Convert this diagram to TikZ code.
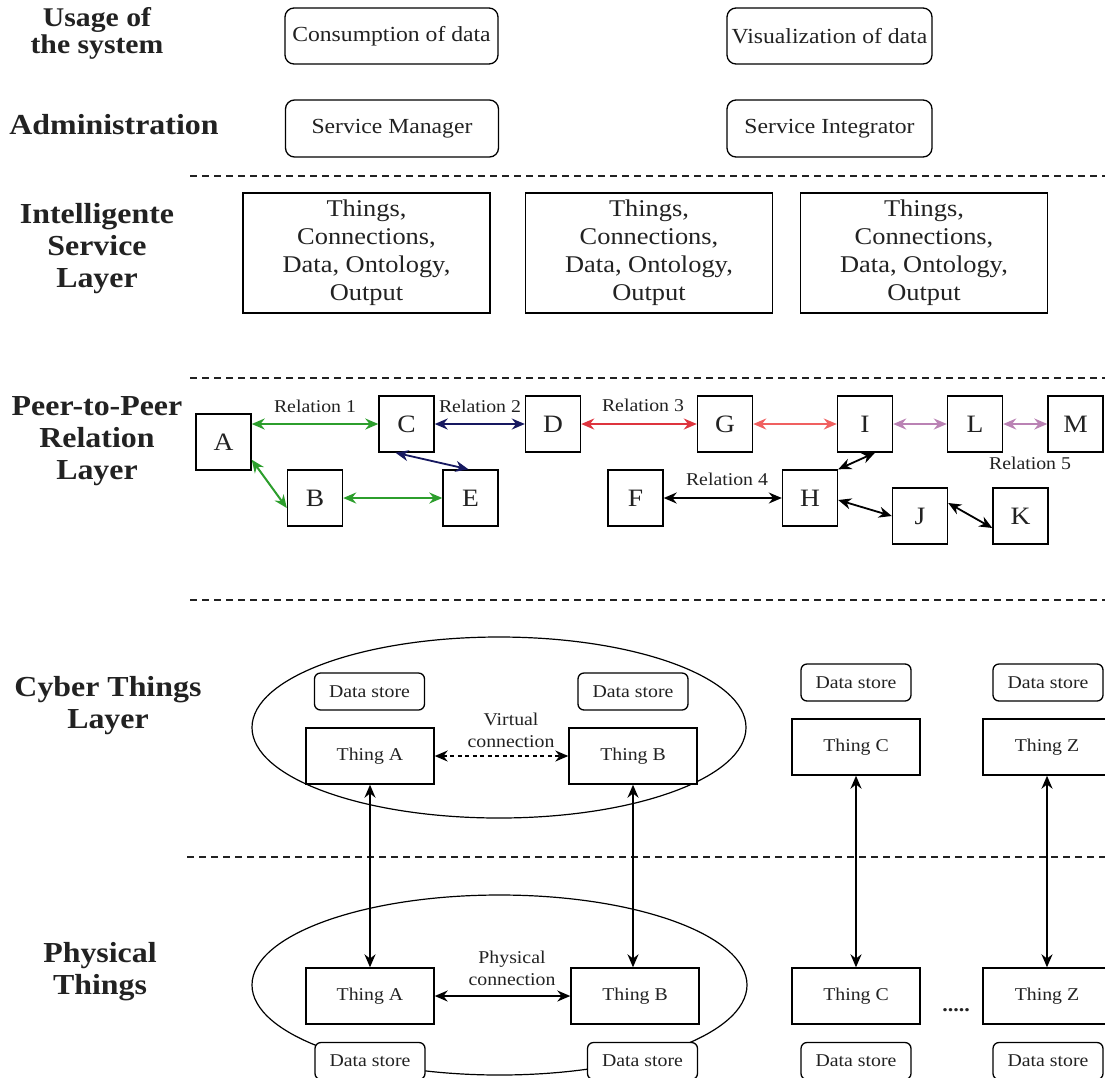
\documentclass[tikz,border=0pt]{standalone}
\usepackage{fontspec}
\setmainfont{Liberation Serif}[FakeStretch=1.1]
\usetikzlibrary{arrows.meta,shapes.geometric}

\definecolor{relgreen}{RGB}{44,158,44}
\definecolor{relnavy}{RGB}{22,24,96}
\definecolor{relred}{RGB}{222,52,62}
\definecolor{relsalmon}{RGB}{240,96,96}
\definecolor{relmauve}{RGB}{186,130,180}
\definecolor{ink}{RGB}{34,34,34}

\tikzset{
  layerlabel/.style={font=\bfseries\fontsize{29}{32}\selectfont, align=center, text=ink},
  roundbox/.style={draw, rounded corners=9, line width=1.3, minimum width=213, minimum height=56,
    inner sep=0, font=\fontsize{21.5}{25}\selectfont, text=ink},
  svcbox/.style={draw, line width=1.4, minimum width=247, minimum height=120, inner sep=0,
    align=center, font=\fontsize{24}{28}\selectfont, text=ink},
  peer/.style={draw, line width=1.4, minimum width=55, minimum height=56, inner sep=0,
    font=\fontsize{25}{28}\selectfont, text=ink},
  thing/.style={draw, fill=white, line width=1.4, minimum width=128, minimum height=56, inner sep=0,
    font=\fontsize{18}{21}\selectfont, text=ink},
  store/.style={draw, fill=white, rounded corners=6, line width=1.3, minimum width=110, minimum height=37,
    inner sep=0, font=\fontsize{18}{20}\selectfont, text=ink},
  rel/.style={font=\fontsize{18}{20}\selectfont, text=ink},
  conlabel/.style={font=\fontsize{18}{22}\selectfont, align=center, text=ink},
  layersep/.style={dash pattern=on 7pt off 5pt, line width=1.2, ink},
  link/.style={{Stealth[length=13,width=11]}-{Stealth[length=13,width=11]}, line width=1.8},
  group/.style={draw, ellipse, line width=1.2, inner sep=0},
}

\begin{document}
\begin{tikzpicture}[x=1pt, y=-1pt]
\useasboundingbox (0,0) rectangle (1105,1077);
\fill[white] (0,0) rectangle (1105,1077);

% layer captions
\node[layerlabel, font=\bfseries\fontsize{27}{27}\selectfont] (lusage) at (97,33) {Usage of\\the system};
\node[layerlabel] (ladmin) at (114,125) {Administration};
\node[layerlabel] (lsvc) at (97,249) {Intelligente\\Service\\Layer};
\node[layerlabel] (lp2p) at (97,441) {Peer-to-Peer\\Relation\\Layer};
\node[layerlabel] (lcyber) at (108,706) {Cyber Things\\Layer};
\node[layerlabel] (lphys) at (100,972) {Physical\\Things};

% layer separators
\draw[layersep] (190,176) -- (1105,176);
\draw[layersep] (190,378) -- (1105,378);
\draw[layersep] (190,600) -- (1105,600);
\draw[layersep] (187,857) -- (1105,857);

% usage and administration
\node[roundbox] (consume) at (391.5,36) {Consumption of data};
\node[roundbox, minimum width=205] (visual) at (829.5,36) {Visualization of data};
\node[roundbox, minimum height=57] (manager) at (392,128.5) {Service Manager};
\node[roundbox, minimum width=205, minimum height=57] (integrator) at (829.5,128.5) {Service Integrator};

% intelligent service layer
\node[svcbox] (svc1) at (366.5,253) {Things,\\Connections,\\Data, Ontology,\\Output};
\node[svcbox] (svc2) at (649,253) {Things,\\Connections,\\Data, Ontology,\\Output};
\node[svcbox] (svc3) at (924,253) {Things,\\Connections,\\Data, Ontology,\\Output};

% peer-to-peer relation layer
\node[peer] (A) at (223.5,442) {A};
\node[peer] (B) at (315,498) {B};
\node[peer] (C) at (406.5,424) {C};
\node[peer] (D) at (553,424) {D};
\node[peer] (E) at (470.5,498) {E};
\node[peer] (F) at (635.5,498) {F};
\node[peer] (G) at (725,424) {G};
\node[peer] (H) at (810,498) {H};
\node[peer] (I) at (865,424) {I};
\node[peer] (J) at (920,516) {J};
\node[peer] (K) at (1020.5,516) {K};
\node[peer] (L) at (975,424) {L};
\node[peer] (M) at (1075.5,424) {M};

\draw[link, relgreen, line width=2] (A.east |- C.west) -- (C.west);
\draw[link, relgreen, line width=2] ([yshift=11pt]A.south east) -- ([yshift=-10pt]B.west);
\draw[link, relgreen, line width=2] (B.east) -- (E.west);
\draw[link, relnavy] (C.east) -- (D.west);
\draw[link, relnavy] ([xshift=-11pt]C.south) -- ([xshift=-2pt]E.north);
\draw[link, relred, line width=2] (D.east) -- (G.west);
\draw[link, relsalmon] (G.east) -- (I.west);
\draw[link, relmauve, line width=2] (I.east) -- (L.west);
\draw[link, relmauve, line width=2] (L.east) -- (M.west);
\draw[link] (F.east) -- (H.west);
\draw[link] (H.north east) -- ([xshift=10pt]I.south);
\draw[link] ([yshift=-2pt]H.east) -- (J.west);
\draw[link] ([yshift=13pt]J.east) -- ([yshift=-12pt]K.west);

\node[rel] (rel1) at (315,406) {Relation 1};
\node[rel] (rel2) at (480,406) {Relation 2};
\node[rel] (rel3) at (643,405) {Relation 3};
\node[rel] (rel4) at (727,479) {Relation 4};
\node[rel] (rel5) at (1030,463) {Relation 5};

% cyber things layer
\node[group, minimum width=494, minimum height=181] (cybergroup) at (499,727.5) {};
\node[store] (dsA) at (369.5,691.5) {Data store};
\node[store] (dsB) at (633,691.5) {Data store};
\node[store] (dsC) at (856,682.5) {Data store};
\node[store] (dsZ) at (1048,682.5) {Data store};
\node[thing] (cA) at (370,756) {Thing A};
\node[thing] (cB) at (633,756) {Thing B};
\node[thing] (cC) at (856,747) {Thing C};
\node[thing] (cZ) at (1047,747) {Thing Z};

\draw[link, line width=1.4, dash pattern=on 4pt off 3.5pt] (cA.east) -- (cB.west);
\node[conlabel] (vlabel) at (511,730) {Virtual\\connection};

% physical things
\node[group, minimum width=495, minimum height=180] (physgroup) at (499.5,985) {};
\node[thing] (pA) at (370,996) {Thing A};
\node[thing] (pB) at (635,996) {Thing B};
\node[thing] (pC) at (856,996) {Thing C};
\node[thing] (pZ) at (1047,996) {Thing Z};
\node[store] (psA) at (370,1061) {Data store};
\node[store] (psB) at (642.5,1061) {Data store};
\node[store] (psC) at (856,1061) {Data store};
\node[store] (psZ) at (1048,1061) {Data store};

\draw[link, line width=1.6] (pA.east) -- (pB.west);
\node[conlabel] (plabel) at (512,968) {Physical\\connection};
\node[font=\bfseries\fontsize{20}{20}\selectfont, text=ink] (dots) at (956,1010) {.....};

% links between cyber and physical things
\draw[link] (cA.south) -- (pA.north);
\draw[link] (cB.south) -- (cB.south |- pB.north);
\draw[link] (cC.south) -- (pC.north);
\draw[link] (cZ.south) -- (pZ.north);
\end{tikzpicture}
\end{document}
